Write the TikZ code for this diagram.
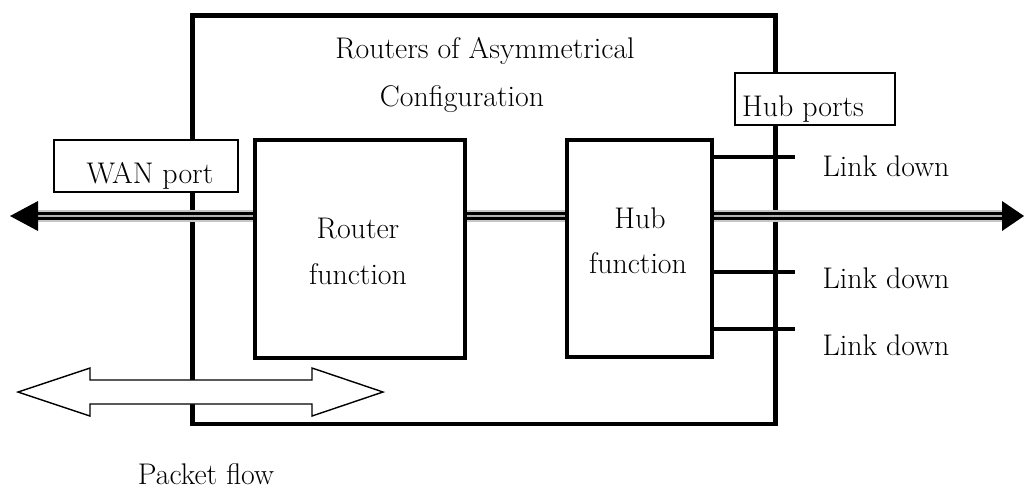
\documentclass[tikz,border=0pt]{standalone}
\usepackage{tikz}
\usetikzlibrary{calc}

\tikzset{
  blk/.style={draw=black, line width=2.8pt, fill=white, inner sep=0pt},
  lbl/.style={draw=black, line width=1pt, fill=white, inner sep=0pt},
  txt/.style={font=\fontsize{17}{26}\selectfont, anchor=base, inner sep=0pt},
  port/.style={line width=2.8pt},
}

\begin{document}
\begin{tikzpicture}[x=0.02cm, y=-0.02cm]
  \useasboundingbox (0,0) rectangle (1026,488);

  % outer router housing
  \node[blk, minimum width=11.68cm, minimum height=8.18cm] (housing) at (484,219.5) {};
  \node[txt] (title_a) at (485,58) {Routers of Asymmetrical};
  \node[txt] (title_b) at (462,106) {Configuration};

  % main line through the router
  \coordinate (w_tip) at (10,216);
  \coordinate (w_back) at (38,216);
  \coordinate (e_tip) at (1024,216);
  \coordinate (e_back) at (1002,216);

  \draw[line width=6.8pt, gray!45] ($(w_back)+(-2,0)$) -- ($(e_back)+(2,0)$);
  \draw[line width=1.5pt, double=gray!60, double distance=1.3pt] ($(w_back)+(-2,0)$) -- ($(e_back)+(2,0)$);
  \fill[black] (w_tip) -- ($(w_back)+(0,-15)$) -- ($(w_back)+(0,15)$) -- cycle;
  \fill[black] (e_tip) -- ($(e_back)+(0,-15)$) -- ($(e_back)+(0,15)$) -- cycle;

  % function blocks
  \node[blk, minimum width=4.2cm, minimum height=4.36cm] (router) at (360,249) {};
  \node[blk, minimum width=2.9cm, minimum height=4.34cm] (hub) at (639.5,248.5) {};

  \node[txt] (router_a) at (358,238) {Router};
  \node[txt] (router_b) at (358,284) {function};
  \node[txt] (hub_a) at (640,228) {Hub};
  \node[txt] (hub_b) at (638,273) {function};

  % hub ports
  \coordinate (p1) at (795,157);
  \coordinate (p2) at (795,272);
  \coordinate (p3) at (795,329);

  \draw[port] (p1 -| hub.east) -- (p1);
  \draw[port] (p2 -| hub.east) -- (p2);
  \draw[port] (p3 -| hub.east) -- (p3);

  \node[txt] (down1) at (886,176) {Link down};
  \node[txt] (down2) at (886,288) {Link down};
  \node[txt] (down3) at (886,355) {Link down};

  % port labels
  \node[lbl, minimum width=3.68cm, minimum height=1.04cm] (wan) at (146,166) {};
  \node[txt] (wan_txt) at (150,183) {WAN port};
  \node[lbl, minimum width=3.2cm, minimum height=1.04cm] (hubports) at (815,99) {};
  \node[txt] (hubports_txt) at (803,116) {Hub ports};

  % packet flow
  \draw[line width=0.8pt, fill=white] (18,392) -- (90,368) -- (90,380) -- (312,380) -- (312,368)
    -- (383,392) -- (312,416) -- (312,404) -- (90,404) -- (90,416) -- cycle;
  \node[txt] (flow) at (206,484) {Packet flow};
\end{tikzpicture}
\end{document}
